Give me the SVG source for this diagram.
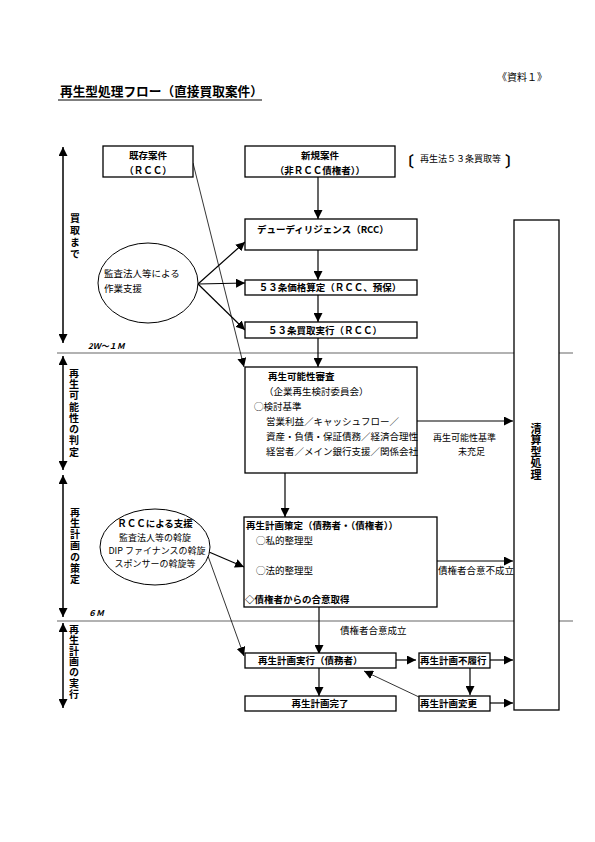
<svg xmlns="http://www.w3.org/2000/svg" width="595" height="842" viewBox="0 0 595 842">
<style>
text{font-family:"Noto Sans CJK JP","Noto Sans",sans-serif;font-size:9.5px;fill:#000}
.b{font-weight:bold}
.c{text-anchor:middle}
.v{writing-mode:vertical-rl;font-weight:bold;font-size:10px}
.s9{font-size:9px}
.br{font-size:15px;font-weight:bold}
.box{fill:#fff;stroke:#000;stroke-width:1.3}
.ln{stroke:#000;stroke-width:1.2;fill:none}
.thin{stroke:#000;stroke-width:0.8;fill:none}
.gray{stroke:#999;stroke-width:1.5}
.it{font-style:italic;font-weight:bold;font-size:8px}
.ph{stroke:#000;stroke-width:1.5;fill:none}
</style>
<defs>
<marker id="ah" viewBox="0 0 10 10" refX="10" refY="5" markerWidth="9" markerHeight="9" markerUnits="userSpaceOnUse" orient="auto-start-reverse"><path d="M0,0 L10,5 L0,10 z" fill="#000"/></marker>
</defs>
<rect width="595" height="842" fill="#fff"/>
<text x="497" y="81" style="font-size:10px">《資料１》</text>
<text x="60" y="96" class="b" style="font-size:12.7px">再生型処理フロー（直接買取案件）</text>
<line x1="58" y1="100" x2="262" y2="100" stroke="#000" stroke-width="1.2"/>
<g id="gridlines">
<line class="gray" x1="57" y1="353" x2="573" y2="353"/>
<line class="gray" x1="57" y1="621" x2="573" y2="621"/>
<text x="88" y="349" class="it">2Ｗ～１Ｍ</text>
<text x="88" y="616" class="it">６Ｍ</text>
</g>
<g id="phases">
<line class="ph" x1="63" y1="147" x2="63" y2="343" marker-start="url(#ah)" marker-end="url(#ah)"/>
<line class="ph" x1="63" y1="356" x2="63" y2="470" marker-start="url(#ah)" marker-end="url(#ah)"/>
<line class="ph" x1="63" y1="475" x2="63" y2="617" marker-start="url(#ah)" marker-end="url(#ah)"/>
<line class="ph" x1="63" y1="623" x2="63" y2="708" marker-start="url(#ah)" marker-end="url(#ah)"/>
<text class="v" x="75" y="213" style="letter-spacing:2px">買取まで</text>
<text class="v" x="74" y="368" style="letter-spacing:1.25px">再生可能性の判定</text>
<text class="v" x="75" y="507" style="letter-spacing:1.2px">再生計画の策定</text>
<text class="v" x="74" y="624" style="letter-spacing:0.9px">再生計画の実行</text>
</g>
<g id="connectors">
<line class="ln" x1="318" y1="177" x2="318" y2="219" marker-end="url(#ah)"/>
<line class="ln" x1="318" y1="250" x2="318" y2="280" marker-end="url(#ah)"/>
<line class="ln" x1="318" y1="295" x2="318" y2="322" marker-end="url(#ah)"/>
<line class="ln" x1="318" y1="338" x2="318" y2="367" marker-end="url(#ah)"/>
<line class="thin" x1="193" y1="163" x2="244" y2="367" marker-end="url(#ah)"/>
<line class="ln" x1="198" y1="284" x2="245" y2="242" marker-end="url(#ah)"/>
<line class="ln" x1="198" y1="284" x2="245" y2="283" marker-end="url(#ah)"/>
<line class="ln" x1="198" y1="284" x2="245" y2="330" marker-end="url(#ah)"/>
<line class="ln" x1="417" y1="421" x2="513" y2="421" marker-end="url(#ah)"/>
<line class="ln" x1="285" y1="473" x2="285" y2="517" marker-end="url(#ah)"/>
<line class="ln" x1="437" y1="561" x2="513" y2="561" marker-end="url(#ah)"/>
<line class="ln" x1="319" y1="607" x2="319" y2="654" marker-end="url(#ah)"/>
<line class="ln" x1="209" y1="552" x2="244" y2="567" marker-end="url(#ah)"/>
<line class="thin" x1="208" y1="556" x2="244" y2="656" marker-end="url(#ah)"/>
<line class="ln" x1="396" y1="660" x2="416" y2="660" marker-end="url(#ah)"/>
<line class="ln" x1="490" y1="660" x2="513" y2="660" marker-end="url(#ah)"/>
<line class="ln" x1="470" y1="667" x2="470" y2="695" marker-end="url(#ah)"/>
<line class="ln" x1="490" y1="703" x2="513" y2="703" marker-end="url(#ah)"/>
<line class="thin" x1="419" y1="697" x2="364" y2="671" marker-end="url(#ah)"/>
<line class="ln" x1="319" y1="668" x2="319" y2="696" marker-end="url(#ah)"/>
<text class="s9" x="433" y="441">再生可能性基準</text>
<text class="s9" x="458" y="455">未充足</text>
<text x="438" y="574">債権者合意不成立</text>
<text x="340" y="634">債権者合意成立</text>
</g>
<g id="n-kizon"><rect class="box" x="103" y="146" width="90" height="31"/><text class="b c" x="148" y="159">既存案件</text><text class="b c" x="148" y="174">（ＲＣＣ）</text></g>
<g id="n-shinki"><rect class="box" x="245" y="146" width="150" height="31"/><text class="b c" x="320" y="159">新規案件</text><text class="b c" x="320" y="174">（非ＲＣＣ債権者））</text></g>
<g id="n-note"><text class="br" x="399" y="167">〔</text><text class="s9" x="420" y="162">再生法５３条買取等</text><text class="br" x="505" y="167">〕</text></g>
<g id="n-dd"><rect class="box" x="245" y="219" width="172" height="31"/><text class="b" x="257" y="233">デューディリジェンス（RCC）</text></g>
<g id="n-53price"><rect class="box" x="245" y="280" width="172" height="15"/><text class="b c" x="330" y="291">５３条価格算定（ＲＣＣ、預保）</text></g>
<g id="n-53buy"><rect class="box" x="245" y="322" width="172" height="16"/><text class="b c" x="325" y="334">５３条買取実行（ＲＣＣ）</text></g>
<g id="n-support1"><ellipse cx="148" cy="283" rx="50" ry="40" fill="#fff" stroke="#000" stroke-width="1"/><text x="104" y="277">監査法人等による</text><text x="104" y="292">作業支援</text></g>
<g id="n-review"><rect class="box" x="245" y="367" width="172" height="106"/>
<text class="b" x="268" y="380">再生可能性審査</text>
<text x="264" y="395">（企業再生検討委員会）</text>
<text x="254" y="410">◯検討基準</text>
<text x="266" y="425">営業利益／キャッシュフロー／</text>
<text x="266" y="440">資産・負債・保証債務／経済合理性</text>
<text x="266" y="455">経営者／メイン銀行支援／関係会社</text></g>
<g id="n-liquid"><rect class="box" x="514" y="220" width="45" height="490"/><text class="v" x="536" y="423" style="font-size:11px;letter-spacing:0.5px">清算型処理</text></g>
<g id="n-plan"><rect class="box" x="244" y="517" width="193" height="90"/>
<text class="b" x="246" y="529">再生計画策定（債務者・（債権者））</text>
<text x="256" y="544">◯私的整理型</text>
<text x="256" y="574">◯法的整理型</text>
<text class="b" x="245" y="603">◇債権者からの合意取得</text></g>
<g id="n-support2"><ellipse cx="155" cy="547" rx="55" ry="38" fill="#fff" stroke="#000" stroke-width="1"/>
<text class="b c" x="155" y="527">ＲＣＣによる支援</text>
<text class="c s9" x="155" y="541">監査法人等の斡旋</text>
<text class="c s9" x="157" y="554">DIP ファイナンスの斡旋</text>
<text class="c s9" x="155" y="567">スポンサーの斡旋等</text></g>
<g id="n-exec"><rect class="box" x="245" y="653" width="151" height="15"/><text class="b" x="258" y="664">再生計画実行（債務者）</text></g>
<g id="n-fail"><rect class="box" x="419" y="653" width="71" height="15"/><text class="b" x="420" y="664">再生計画不履行</text></g>
<g id="n-change"><rect class="box" x="419" y="696" width="71" height="15"/><text class="b" x="420" y="707">再生計画変更</text></g>
<g id="n-done"><rect class="box" x="245" y="696" width="151" height="15"/><text class="b c" x="320" y="707">再生計画完了</text></g>
</svg>
